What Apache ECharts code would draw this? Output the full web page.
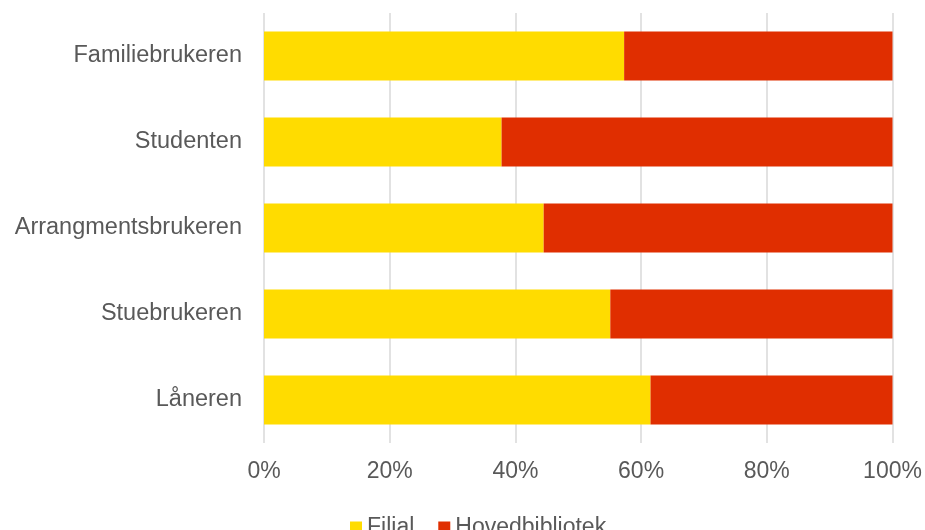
<!DOCTYPE html>
<html>
<head>
<meta charset="utf-8">
<script src="https://cdn.jsdelivr.net/npm/echarts@6/dist/echarts.min.js"></script>
<style>
  html, body { margin: 0; padding: 0; background: #fff; }
  #chart { width: 925px; height: 530px; }
</style>
</head>
<body>
<div id="chart"></div>
<script>
// kategorier og andeler (prosent)
var categories = ['Familiebrukeren', 'Studenten', 'Arrangmentsbrukeren', 'Stuebrukeren', 'Låneren']
var filial = [57.3, 37.8, 44.5, 55.1, 61.5]
var hovedbibliotek = [42.7, 62.2, 55.5, 44.9, 38.5]
var seriesNames = ['Filial', 'Hovedbibliotek']

var chart = echarts.init(document.getElementById('chart'))

var option = {
  animation: false,
  backgroundColor: '#fff',
  textStyle: { fontFamily: 'Liberation Sans, Arial, sans-serif' },
  grid: {
    left: 264,
    right: 32.5,
    top: 13,
    bottom: 87
  },
  legend: {
    data: seriesNames,
    left: 345,
    top: 511,
    icon: 'rect',
    itemWidth: 12,
    itemHeight: 12,
    itemGap: 24,
    selectedMode: false,
    textStyle: { fontSize: 23, color: '#595959' }
  },
  xAxis: {
    type: 'value',
    min: 0,
    max: 100,
    interval: 20,
    axisLine: { show: false },
    axisTick: { show: false },
    splitLine: { lineStyle: { color: '#d9d9d9', width: 1.5 } },
    axisLabel: {
      formatter: '{value}%',
      fontSize: 23,
      color: '#595959',
      margin: 17
    }
  },
  yAxis: {
    type: 'category',
    data: categories,
    inverse: true,
    axisLine: { show: false },
    axisTick: { show: false },
    axisLabel: {
      fontSize: 23.5,
      color: '#595959',
      margin: 22
    }
  },
  series: [
    {
      name: 'Filial',
      type: 'bar',
      stack: 'total',
      data: filial,
      barWidth: '57%',
      itemStyle: { color: '#FFDC00' }
    },
    {
      name: 'Hovedbibliotek',
      type: 'bar',
      stack: 'total',
      data: hovedbibliotek,
      barWidth: '57%',
      itemStyle: { color: '#E02E00' }
    }
  ]
}

chart.setOption(option)
</script>
</body>
</html>
